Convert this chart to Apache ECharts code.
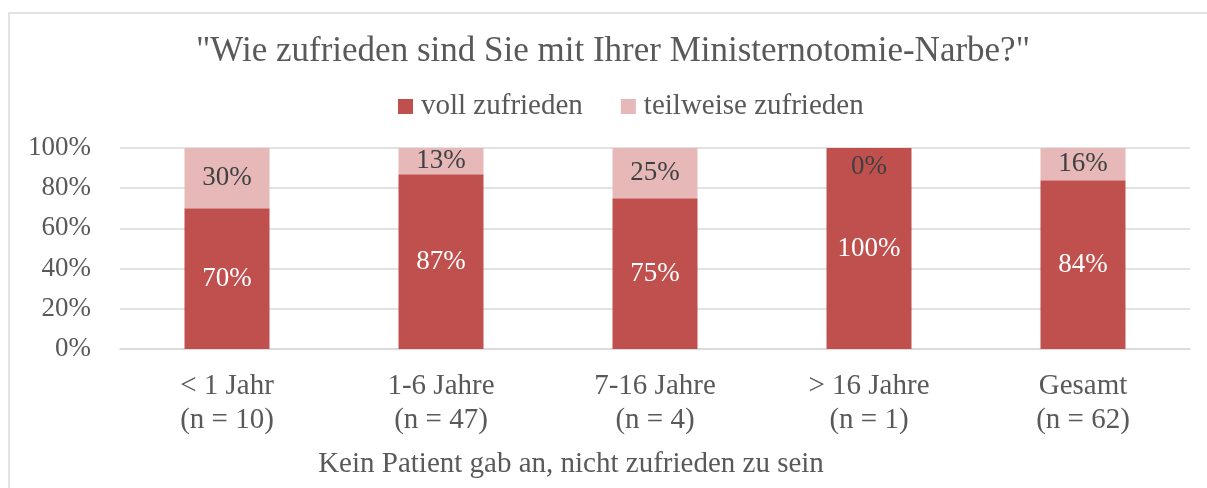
<!DOCTYPE html>
<html>
<head>
<meta charset="utf-8">
<style>
html,body{margin:0;padding:0;background:#fff;}
#chart{width:1207px;height:488px;}
</style>
<script src="https://cdn.jsdelivr.net/npm/echarts@6/dist/echarts.min.js"></script>
</head>
<body>
<div id="chart"></div>
<script>
const titleText = '"Wie zufrieden sind Sie mit Ihrer Ministernotomie-Narbe?"';
const axisTitle = 'Kein Patient gab an, nicht zufrieden zu sein';
const categories = ['< 1 Jahr\n(n = 10)', '1-6 Jahre\n(n = 47)', '7-16 Jahre\n(n = 4)', '> 16 Jahre\n(n = 1)', 'Gesamt\n(n = 62)'];
const seriesNames = ['voll zufrieden', 'teilweise zufrieden'];
const vollZufrieden = [70, 87, 75, 100, 84];
const teilweiseZufrieden = [30, 13, 25, 0, 16];
const yTicks = [0, 20, 40, 60, 80, 100];

const FONT = "'Liberation Serif', 'Times New Roman', serif";
const TXT = '#595959';

const chart = echarts.init(document.getElementById('chart'), null, {renderer: 'canvas'});

const teilData = teilweiseZufrieden.map(v => v === 0
  ? {value: v, label: {position: 'bottom', distance: 5}}
  : v);

chart.setOption({
  animation: false,
  backgroundColor: '#ffffff',
  textStyle: {fontFamily: FONT},
  graphic: [
    {type: 'rect', silent: true, z: -1,
     shape: {x: 9, y: 13, width: 1260, height: 520},
     style: {fill: 'none', stroke: '#d9d9d9', lineWidth: 1.5}},
    {type: 'text', position: [613, 52],
     style: {text: titleText, fontFamily: FONT, fontSize: 35, fill: TXT, textAlign: 'center', textVerticalAlign: 'middle'}},
    {type: 'text', position: [571, 464],
     style: {text: axisTitle, fontFamily: FONT, fontSize: 29, fill: TXT, textAlign: 'center', textVerticalAlign: 'middle'}}
  ],
  legend: {
    left: 393, top: 87,
    itemWidth: 15, itemHeight: 15, itemGap: 38,
    icon: 'rect',
    textStyle: {fontFamily: FONT, fontSize: 29, color: TXT, padding: [0, 0, 0, 3]},
    data: seriesNames
  },
  grid: {left: 120, right: 17, top: 148, bottom: 139, containLabel: false},
  xAxis: {
    type: 'category',
    data: categories,
    axisLine: {show: true, lineStyle: {color: '#d9d9d9', width: 1.5}},
    axisTick: {show: false},
    axisLabel: {fontFamily: FONT, fontSize: 29, color: TXT, lineHeight: 34, margin: 20, interval: 0}
  },
  yAxis: {
    type: 'value', min: 0, max: 100, interval: 20,
    axisLine: {show: false}, axisTick: {show: false},
    splitLine: {lineStyle: {color: '#d9d9d9', width: 1.5}},
    axisLabel: {fontFamily: FONT, fontSize: 27, color: TXT, margin: 29,
      formatter: v => yTicks.includes(v) ? v + '%' : ''}
  },
  series: [
    {name: seriesNames[0], type: 'bar', stack: 'total', barWidth: 85,
     itemStyle: {color: '#C0504D'},
     label: {show: true, position: 'inside', formatter: '{c}%', fontFamily: FONT, fontSize: 27, color: '#ffffff'},
     data: vollZufrieden},
    {name: seriesNames[1], type: 'bar', stack: 'total', barWidth: 85,
     itemStyle: {color: '#E6B9B8'},
     label: {show: true, position: 'inside', formatter: '{c}%', fontFamily: FONT, fontSize: 27, color: '#404040'},
     data: teilData}
  ]
});
</script>
</body>
</html>
